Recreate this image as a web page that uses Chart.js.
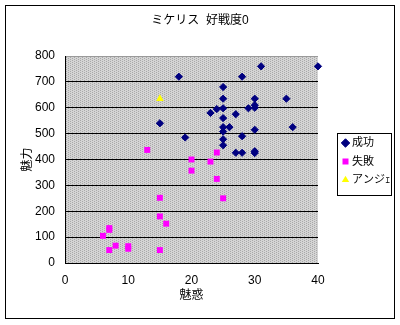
<!DOCTYPE html>
<html>
<head>
<meta charset="utf-8">
<script src="https://cdn.jsdelivr.net/npm/chart.js@4/dist/chart.umd.min.js"></script>
<style>
  html, body { margin: 0; padding: 0; background: #fff; }
  #wrap { width: 400px; height: 325px; }
</style>
</head>
<body>
<div id="wrap"><canvas id="chart" width="400" height="325"></canvas></div>
<script>
// データ
const seriesNames = ['成功', '失敗', 'アンジｪ'];

const successX = [18, 15, 19, 31, 40, 28, 25, 25, 30, 35, 30, 30, 29, 24, 25, 23, 27, 25, 25, 25, 26, 30, 36, 28, 25, 25, 27, 28, 30, 30];
const successY = [720, 540, 485, 760, 760, 720, 680, 635, 635, 635, 610, 600, 598, 595, 598, 580, 575, 560, 525, 508, 525, 515, 525, 490, 478, 455, 426, 426, 432, 425];

const failX = [13, 20, 20, 24, 23, 24, 25, 15, 15, 16, 7, 7, 6, 7, 8, 10, 10, 15];
const failY = [437, 400, 357, 427, 392, 325, 250, 252, 180, 152, 135, 128, 105, 50, 67, 65, 55, 50];

const angeX = [15];
const angeY = [635];

const xTicks = [0, 10, 20, 30, 40];
const yTicks = [0, 100, 200, 300, 400, 500, 600, 700, 800];

const pts = (xs, ys) => xs.map((x, i) => ({ x: x, y: ys[i] }));

const FONT = 'Liberation Sans, "Noto Sans CJK JP", sans-serif';

// プロットエリアの灰色パターン
function makePattern(ctx) {
    const c = document.createElement('canvas');
    c.width = 4; c.height = 4;
    const p = c.getContext('2d');
    p.fillStyle = '#d4d4d4';
    p.fillRect(0, 0, 4, 4);
    p.fillStyle = '#a8a8a8';
    p.fillRect(0, 0, 1, 1);
    p.fillRect(2, 1, 1, 1);
    p.fillRect(0, 2, 1, 1);
    p.fillRect(2, 3, 1, 1);
    return ctx.createPattern(c, 'repeat');
}

const framePlugin = {
    id: 'frame',
    beforeDraw(chart) {
        const ctx = chart.ctx;
        const a = chart.chartArea;
        ctx.save();
        ctx.fillStyle = '#fff';
        ctx.fillRect(0, 0, chart.width, chart.height);
        ctx.fillStyle = makePattern(ctx);
        ctx.fillRect(a.left, a.top, a.right - a.left, a.bottom - a.top);
        ctx.restore();
    },
    afterLayout(chart) {
        // 凡例を右側の枠の位置へ
        const lg = chart.legend;
        lg.left = 337; lg.top = 130; lg.right = 391; lg.bottom = 196;
        lg.width = 54; lg.height = 66;
    },
    afterDraw(chart) {
        const ctx = chart.ctx;
        ctx.save();
        ctx.strokeStyle = '#000';
        ctx.lineWidth = 1;
        ctx.strokeRect(5.5, 5.5, 389, 313);
        ctx.strokeRect(337.5, 133.5, 54, 62);
        ctx.restore();
    }
};

new Chart(document.getElementById('chart').getContext('2d'), {
    type: 'scatter',
    data: {
        datasets: [{
            label: seriesNames[0],
            data: pts(successX, successY),
            pointStyle: 'rectRot',
            pointRadius: 3.6,
            backgroundColor: '#000080',
            borderColor: '#000080',
            borderWidth: 1,
            clip: false
        },
        {
            label: seriesNames[1],
            data: pts(failX, failY),
            pointStyle: 'rect',
            pointRadius: 4.2,
            backgroundColor: '#ff00ff',
            borderColor: '#ff00ff',
            borderWidth: 0,
            clip: false
        },
        {
            label: seriesNames[2],
            data: pts(angeX, angeY),
            pointStyle: 'triangle',
            pointRadius: 4.4,
            backgroundColor: '#ffff00',
            borderColor: '#ffff00',
            borderWidth: 0,
            clip: false
        }]
    },
    options: {
        responsive: false,
        animation: false,
        layout: { padding: 0 },
        scales: {
            x: {
                type: 'linear',
                min: xTicks[0],
                max: xTicks[xTicks.length - 1],
                afterBuildTicks: (s) => { s.ticks = xTicks.map(v => ({ value: v })); },
                afterFit: (s) => { s.height = 62; },
                grid: { drawOnChartArea: false, drawTicks: false },
                border: { color: '#000', width: 1 },
                ticks: { color: '#000', padding: 10, font: { family: FONT, size: 12 } },
                title: { display: true, text: '魅惑', color: '#000', padding: { top: 0, bottom: 22 }, font: { family: FONT, size: 12 } }
            },
            y: {
                type: 'linear',
                min: yTicks[0],
                max: yTicks[yTicks.length - 1],
                afterBuildTicks: (s) => { s.ticks = yTicks.map(v => ({ value: v })); },
                afterFit: (s) => { s.width = 65; },
                grid: {
                    drawTicks: false,
                    color: (c) => (c.tick && c.tick.value === 800) ? '#9a9a9a' : '#000',
                    lineWidth: 1
                },
                border: { color: '#000', width: 1 },
                ticks: { color: '#000', padding: 10, font: { family: FONT, size: 12 } },
                title: { display: true, text: '魅力', color: '#000', padding: { top: 20, bottom: 0 }, font: { family: FONT, size: 12 } }
            },
            // 右側の余白（凡例用）
            yRight: {
                type: 'linear',
                position: 'right',
                display: true,
                afterFit: (s) => { s.width = 82; },
                grid: { display: false },
                border: { display: false },
                ticks: { display: false }
            }
        },
        plugins: {
            title: {
                display: true,
                text: 'ミケリス  好戦度0',
                color: '#000',
                font: { family: FONT, size: 12, weight: 'normal' },
                padding: { top: 13, bottom: 28.6 }
            },
            legend: {
                position: 'chartArea',
                align: 'start',
                labels: {
                    usePointStyle: true,
                    boxWidth: 2,
                    boxHeight: 6,
                    padding: 7.5,
                    color: '#000',
                    font: { family: FONT, size: 11 }
                }
            },
            tooltip: { enabled: false }
        }
    },
    plugins: [framePlugin]
});
</script>
</body>
</html>
